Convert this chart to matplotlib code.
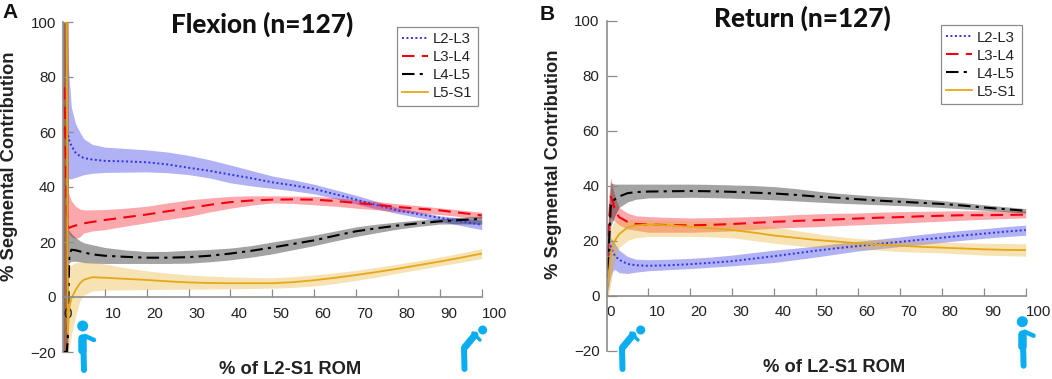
import matplotlib
matplotlib.use("Agg")
import matplotlib.pyplot as plt
from matplotlib.patches import Circle

W, H = 1052, 379
segments = ["L2-L3", "L3-L4", "L4-L5", "L5-S1"]
x_ticks = [0, 10, 20, 30, 40, 50, 60, 70, 80, 90, 100]
y_ticks = [-20, 0, 20, 40, 60, 80, 100]

# Panel A: Flexion
xa = [0, .3, .6, .9, 1.15, 1.25, 1.5, 2, 3, 4, 5, 7, 10, 15, 20, 25, 30, 35, 40, 45, 50, 55, 60, 65, 70, 75, 80, 85, 90, 95, 100]
a_l23 = [61, 61, 61, 60, 59, 58.5, 57, 55, 52.5, 51.3, 50.5, 50, 49.5, 49.3, 49, 48.2, 47, 45.9, 44.5, 43.2, 41.7, 40.6, 39.3, 37.4, 35.4, 33.4, 31.5, 30.1, 28.8, 27.5, 26.3]
a_l23_hi = [100, 100, 100, 100, 100, 85, 79, 69, 63, 60, 57.5, 55.5, 54.5, 54, 53.5, 52.7, 51.5, 49.9, 48, 46, 44, 42.6, 41, 39, 37, 34.7, 32.5, 31, 29.5, 28.7, 28]
a_l23_lo = [-20, -20, -20, -20, -20, 43, 43, 43, 43.5, 44, 44.5, 45, 45.3, 45.4, 45.5, 45.2, 44.5, 43.3, 41.5, 40.4, 39.5, 38.6, 37.5, 35.8, 33.8, 32, 30.3, 28.9, 27.5, 26, 24.5]
a_l34 = [76, 76, 55, 32, 26.5, 25, 25.2, 25.5, 26, 26.4, 26.8, 27.3, 28, 29, 30, 31.2, 32.3, 33.5, 34.5, 35.1, 35.4, 35.5, 35.4, 34.9, 34.2, 33.5, 32.7, 32.1, 31.5, 30.6, 29.7]
a_l34_hi = [100, 100, 100, 100, 100, 38, 37, 35, 33, 32, 31.7, 31.7, 31.8, 32.3, 33, 34.2, 35.3, 36, 36.6, 36.8, 36.8, 36.7, 36.6, 36.1, 35.4, 34.7, 33.9, 33.2, 32.4, 31.6, 30.8]
a_l34_lo = [-20, -20, -20, -20, -20, 24, 23, 22, 21.3, 21.8, 23.3, 24, 24.5, 25.8, 27, 28.2, 29.3, 30.9, 32.3, 33.4, 34.2, 34, 33.5, 33, 32.3, 31.7, 31, 30.5, 30, 29.2, 28.5]
a_l45 = [-20, -20, -20, -20, -15, -5, 15, 17.2, 17, 16.6, 16.2, 15.5, 15, 14.6, 14.3, 14.3, 14.5, 15, 15.8, 16.8, 18, 19.3, 20.6, 22.3, 23.9, 25, 26, 26.8, 27.5, 28, 28.4]
a_l45_hi = [100, 100, 100, 100, 100, 24.5, 24, 23, 21.6, 20.5, 19.7, 19, 18, 17.1, 16.5, 16.6, 17, 17.3, 17.8, 18.7, 20, 21.2, 22.5, 24, 25.5, 26.5, 27.3, 28, 28.5, 29, 29.5]
a_l45_lo = [-20, -20, -20, -20, -20, 12, 12.5, 13, 13, 12.8, 12.5, 12.3, 12.2, 12.2, 12.2, 12.2, 12.3, 12.8, 13.5, 14.5, 15.7, 17.2, 18.7, 20.4, 22, 23.4, 24.7, 25.7, 26.5, 26.6, 26.5]
a_l51 = [100, 100, 100, 100, -13, -8, -4, -0.5, 2.5, 4.9, 6.3, 7.2, 7, 6.6, 6.2, 5.7, 5.3, 5.1, 5, 5, 5, 5.4, 6.1, 7, 8, 9.1, 10.3, 11.6, 12.9, 14.3, 15.8]
a_l51_hi = [100, 100, 100, 100, 100, 10, 11, 11.5, 12.5, 12.7, 12.8, 12.5, 12, 10.6, 9.5, 8.7, 8, 7.6, 7.3, 7.1, 7, 7.4, 8, 8.8, 9.7, 10.8, 12, 13.2, 14.5, 16, 17.6]
a_l51_lo = [-20, -20, -20, -20, -20, -20, -18, -14, -7, -1.5, 0.8, 2.2, 2.5, 2.6, 2.7, 2.8, 2.8, 2.9, 3, 3.1, 3.2, 3.5, 4, 4.9, 6, 7.3, 8.7, 10, 11.3, 12.6, 14]

# Panel B: Return
xb = [0, 0.5, 1, 1.5, 2, 3, 5, 7, 10, 15, 20, 25, 30, 35, 40, 45, 50, 55, 60, 65, 70, 75, 80, 85, 90, 95, 100]
b_l23 = [0, 10, 18, 16, 14.5, 13, 11.5, 11, 10.8, 11, 11.4, 11.9, 12.5, 13.4, 14.3, 15.3, 16.3, 17.2, 18, 18.8, 19.5, 20.3, 21, 21.8, 22.5, 23.2, 23.8]
b_l23_hi = [0, 15, 21, 20, 19, 16.5, 14.2, 13.2, 13, 13.2, 13.5, 14, 14.7, 15.6, 16.5, 17.2, 18, 18.9, 19.7, 20.5, 21.3, 22.2, 23, 23.7, 24.3, 25, 25.6]
b_l23_lo = [0, 3, 7, 9, 9.5, 8.3, 8, 8.5, 9, 9.4, 9.8, 10.3, 10.8, 11.4, 12, 13, 14, 15.1, 16.2, 17, 17.8, 18.5, 19.3, 20.1, 20.8, 21.4, 21.9]
b_l34 = [0, 25, 36, 34, 31, 28.5, 26.8, 26, 25.8, 25.6, 25.5, 25.7, 26, 26.4, 26.8, 27.1, 27.4, 27.7, 28, 28.3, 28.5, 28.8, 29, 29.2, 29.2, 29.3, 29.4]
b_l34_hi = [0, 35, 43, 39, 36, 32, 30, 29, 28.7, 28.4, 28.2, 28.3, 28.5, 28.7, 29, 29.4, 29.7, 29.9, 30, 30.3, 30.5, 30.6, 30.7, 30.8, 30.8, 30.8, 30.7]
b_l34_lo = [0, 15, 28, 27.5, 27, 25.7, 24.2, 23.7, 23, 23, 23, 23.2, 23.5, 24, 24.5, 24.8, 25, 25.4, 25.7, 26, 26.3, 26.7, 27, 27.4, 27.7, 28, 28.2]
b_l45 = [0, 16, 32, 34.3, 35, 36, 37.2, 37.6, 37.8, 37.9, 38, 37.9, 37.7, 37.4, 37.1, 36.6, 36, 35.5, 35, 34.5, 34.1, 33.7, 33.3, 32.7, 32, 31.4, 30.8]
b_l45_hi = [0, 30, 41, 40.7, 40.5, 40.5, 40.5, 40.5, 40.5, 40.5, 40.5, 40.4, 40.2, 40, 39.6, 38.9, 38, 37.2, 36.6, 36.1, 35.7, 35.1, 34.5, 33.8, 33, 32.3, 31.6]
b_l45_lo = [0, 5, 25, 27, 29, 32, 34, 35, 35.5, 35.6, 35.7, 35.6, 35.4, 35.1, 34.8, 34.4, 34, 33.6, 33.3, 33, 32.7, 32.4, 32, 31.5, 31, 30.5, 30]
b_l51 = [0, 7, 15, 18, 20, 22.3, 24.7, 25.5, 25.8, 25.5, 25, 24.5, 23.8, 22.9, 21.8, 21, 20.2, 19.6, 19, 18.5, 18.1, 17.7, 17.4, 17.1, 16.8, 16.6, 16.5]
b_l51_hi = [0, 15, 24, 26, 27, 27.5, 27.5, 27.4, 27.5, 27.3, 27, 26.9, 26.7, 26, 25, 23.7, 22.5, 21.5, 20.7, 20.3, 20, 19.7, 19.5, 19.2, 19, 18.9, 18.8]
b_l51_lo = [0, 0, 4, 9, 13, 17.5, 20, 21, 21.5, 21.5, 21.5, 21.3, 21, 20, 19, 18.2, 17.5, 17.2, 17, 16.5, 16, 15.7, 15.5, 15.1, 14.7, 14.5, 14.3]

colors = ["#3232e6", "#f5000f", "#000000", "#e6a817"]
band_alpha = [0.38, 0.34, 0.36, 0.33]
styles = [(0, (1, 1.3)), (0, (6, 3.5)), (0, (6, 2.5, 1.5, 2.5)), "-"]
widths = [1.4, 1.5, 1.5, 1.3]
AXIS = "#8c8c8c"
TXT = "#222222"
FONT = "Liberation Sans"

fig = plt.figure(figsize=(W / 100, H / 100), dpi=100)


def box(left, right, top, bottom):
    return [left / W, 1 - bottom / H, (right - left) / W, (bottom - top) / H]


def panel(rect, x, means, his, los, legend_anchor):
    ax = fig.add_axes(rect)
    ax.patch.set_alpha(0)
    for m, hi, lo, c, a, s, w, name in zip(means, his, los, colors, band_alpha, styles, widths, segments):
        ax.fill_between(x, lo, hi, color=c, alpha=a, linewidth=0)
        ax.plot(x, m, color=c, linestyle=s, linewidth=w, label=name)
    ax.set_xlim(0, 100)
    ax.set_ylim(-20, 100)
    for side in ("top", "right"):
        ax.spines[side].set_visible(False)
    ax.spines["bottom"].set_position(("data", 0))
    for side in ("left", "bottom"):
        ax.spines[side].set_color(AXIS)
        ax.spines[side].set_linewidth(1.2)
    ax.set_xticks(x_ticks)
    ax.set_yticks(y_ticks)
    ax.tick_params(axis="x", direction="in", length=6, width=0.9, color=AXIS, pad=7, labelsize=10.9, labelcolor=TXT)
    ax.tick_params(axis="y", direction="in", length=7, width=0.9, color=AXIS, pad=5, labelsize=10.9, labelcolor=TXT)
    for t in ax.get_xticklabels():
        t.set_ha("left")
        t.set_fontfamily(FONT)
    for t in ax.get_yticklabels():
        t.set_fontfamily(FONT)
    leg = ax.legend(loc="upper left", bbox_to_anchor=legend_anchor, bbox_transform=fig.transFigure,
                    frameon=True, fancybox=False, edgecolor=AXIS, framealpha=1, borderpad=0.38,
                    labelspacing=0.27, handlelength=1.75, handletextpad=0.3, borderaxespad=0,
                    prop={"family": FONT, "size": 10.7})
    leg.get_frame().set_linewidth(0.9)
    for t in leg.get_texts():
        t.set_color(TXT)
    return ax


panel(box(63, 481.7, 22, 352), xa,
      [a_l23, a_l34, a_l45, a_l51], [a_l23_hi, a_l34_hi, a_l45_hi, a_l51_hi], [a_l23_lo, a_l34_lo, a_l45_lo, a_l51_lo],
      (396.7 / W, 1 - 26.7 / H))
panel(box(606.5, 1025.7, 20.5, 350.5), xb,
      [b_l23, b_l34, b_l45, b_l51], [b_l23_hi, b_l34_hi, b_l45_hi, b_l51_hi], [b_l23_lo, b_l34_lo, b_l45_lo, b_l51_lo],
      (940.7 / W, 1 - 25 / H))


def label(px, py, s, **kw):
    fig.text(px / W, 1 - py / H, s, ha="center", va="center", **kw)


label(262, 24, "Flexion (n=127)", fontsize=18.8, fontweight="black", family="Lato", color="#111111")
label(802, 18, "Return (n=127)", fontsize=18.8, fontweight="black", family="Lato", color="#111111")
label(10, 12, "A", fontsize=15, fontweight="bold", family=FONT, color="#111111")
label(547, 15, "B", fontsize=15, fontweight="bold", family=FONT, color="#111111")
label(10, 166, "% Segmental Contribution", fontsize=13.2, fontweight="bold", family=FONT, rotation=90, color="#222222")
label(553, 164, "% Segmental Contribution", fontsize=13.2, fontweight="bold", family=FONT, rotation=90, color="#222222")
label(290, 370, "% of L2-S1 ROM", fontsize=13.2, fontweight="bold", family=FONT, color="#222222")
label(834, 368, "% of L2-S1 ROM", fontsize=13.2, fontweight="bold", family=FONT, color="#222222")

# Pictograms of the posture at each end of the movement
ov = fig.add_axes([0, 0, 1, 1], zorder=10)
ov.set_xlim(0, W)
ov.set_ylim(H, 0)
ov.axis("off")
BLUE = "#0aaef0"
PX = 0.72


def seg(x0, y0, x1, y1, w):
    ov.plot([x0, x1], [y0, y1], color=BLUE, linewidth=w * PX, solid_capstyle="round")


def standing(dx, dy):
    ov.add_patch(Circle((82.7 + dx, 326 + dy), 5.5, color=BLUE, linewidth=0))
    seg(82 + dx, 338 + dy, 82 + dx, 350 + dy, 8.5)
    seg(83.5 + dx, 350 + dy, 84 + dx, 370 + dy, 6)
    seg(85 + dx, 336 + dy, 94 + dx, 340 + dy, 4.5)


def bent(dx, dy):
    ov.add_patch(Circle((482.7 + dx, 330 + dy), 4.5, color=BLUE, linewidth=0))
    seg(465 + dx, 347 + dy, 475 + dx, 335 + dy, 7)
    seg(464 + dx, 348 + dy, 464.5 + dx, 369 + dy, 6)
    seg(473 + dx, 333 + dy, 480 + dx, 340 + dy, 3.5)


standing(0, 0)
standing(939.6, -4.3)
bent(0, 0)
bent(158, 0)

fig.savefig("out.png", dpi=100)
